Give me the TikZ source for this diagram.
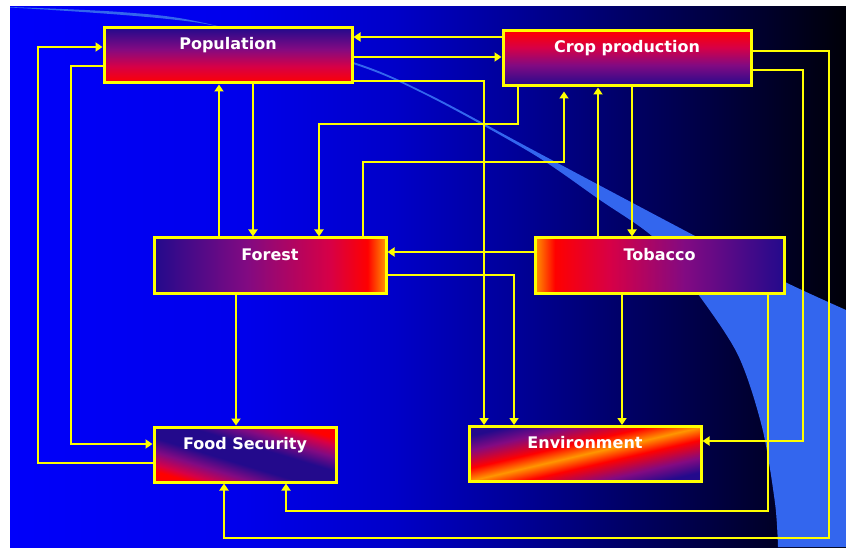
\documentclass[tikz,border=0pt]{standalone}
\usepackage{fontspec}
\usetikzlibrary{arrows.meta}
\newfontfamily\labelfont{DejaVu Sans}

% palette
\definecolor{bgA}{RGB}{0,0,250}
\definecolor{bgB}{RGB}{0,0,235}
\definecolor{bgC}{RGB}{0,0,200}
\definecolor{bgD}{RGB}{0,0,150}
\definecolor{bgE}{RGB}{0,0,95}
\definecolor{bgF}{RGB}{0,0,45}
\definecolor{bgG}{RGB}{0,0,8}
\definecolor{arcblue}{RGB}{51,102,238}
\definecolor{linkyellow}{RGB}{255,255,0}
\definecolor{bxnavy}{RGB}{35,10,140}
\definecolor{bxpurple}{RGB}{130,10,130}
\definecolor{bxcrimson}{RGB}{215,0,70}
\definecolor{bxred}{RGB}{255,0,0}
\definecolor{bxorange}{RGB}{255,150,0}

% slide background: bright blue fading to black
\pgfdeclarehorizontalshading{slidebg}{100bp}{color(0bp)=(bgA); color(25bp)=(bgA);
  color(39bp)=(bgB); color(48bp)=(bgC); color(55.5bp)=(bgD); color(62.7bp)=(bgE);
  color(69.9bp)=(bgF); color(75bp)=(bgG); color(100bp)=(bgG)}

% box fills
\pgfdeclareverticalshading{navytored}{100bp}{color(0bp)=(bxred); color(25bp)=(bxred);
  color(40bp)=(bxcrimson); color(56bp)=(bxpurple); color(75bp)=(bxnavy); color(100bp)=(bxnavy)}
\pgfdeclareverticalshading{redtonavy}{100bp}{color(0bp)=(bxnavy); color(25bp)=(bxnavy);
  color(44bp)=(bxpurple); color(60bp)=(bxcrimson); color(75bp)=(bxred); color(100bp)=(bxred)}
\pgfdeclarehorizontalshading{leftnavy}{100bp}{color(0bp)=(bxnavy); color(25bp)=(bxnavy);
  color(45bp)=(bxpurple); color(63bp)=(bxcrimson); color(71bp)=(bxred); color(75bp)=(bxorange);
  color(100bp)=(bxorange)}
\pgfdeclarehorizontalshading{rightnavy}{100bp}{color(0bp)=(bxorange); color(25bp)=(bxorange);
  color(29bp)=(bxred); color(40bp)=(bxcrimson); color(55bp)=(bxpurple); color(75bp)=(bxnavy);
  color(100bp)=(bxnavy)}
\pgfdeclareverticalshading{navyband}{100bp}{color(0bp)=(bxred); color(25bp)=(bxred);
  color(29bp)=(bxcrimson); color(36bp)=(bxpurple); color(44bp)=(bxnavy); color(56bp)=(bxnavy);
  color(64bp)=(bxpurple); color(71bp)=(bxcrimson); color(75bp)=(bxred); color(100bp)=(bxred)}
\pgfdeclareverticalshading{orangeband}{100bp}{color(0bp)=(bxnavy); color(25bp)=(bxnavy);
  color(33bp)=(bxpurple); color(43bp)=(bxred); color(50bp)=(bxorange); color(57bp)=(bxred);
  color(67bp)=(bxpurple); color(75bp)=(bxnavy); color(100bp)=(bxnavy)}

\tikzset{
  factor/.style={shade, draw=linkyellow, line width=3pt, inner sep=0pt,
    text height=22pt, text depth=33pt, text=white,
    font=\labelfont\bfseries\fontsize{16}{19}\selectfont},
  link/.style={draw=linkyellow, line width=2.8pt,
    -{Triangle[length=7pt,width=9pt]}},
}

\begin{document}
\begin{tikzpicture}[x=1pt,y=1pt]
\useasboundingbox (0,0) rectangle (846,547);
\fill[white] (0,0) rectangle (846,547);
\shade[shading=slidebg] (10,0) rectangle (846,540);

% light crescent sweeping to the lower right
\fill[arcblue] (10,540)
  plot[smooth] coordinates {(10,540) (120,535) (200,525) (353,485) (430,452)
    (533,397) (697,310) (785,265) (846,237)}
  -- (846,0) -- (778,0)
  -- plot[smooth] coordinates {(778,0) (775,44) (762,120) (737,194) (690,264)
    (653,310) (600,347) (533,393) (430,450) (353,483) (200,524) (10,539.5)}
  -- cycle;

% factors
\node[factor, shading=navytored, minimum width=248pt] (pop) at (228,491.5) {Population};
\node[factor, shading=redtonavy, minimum width=248pt] (crop) at (627,488.5) {Crop production};
\node[factor, shading=leftnavy, minimum width=232pt] (forest) at (270,281.5) {Forest};
\node[factor, shading=rightnavy, minimum width=249pt] (tob) at (659.5,281.5) {Tobacco};
\node[factor, shading=navyband, shading angle=-16.8, minimum width=182pt] (fs) at (245,92.5) {Food Security};
\node[factor, shading=orangeband, shading angle=13.1, minimum width=232pt] (env) at (585,93) {Environment};

% links on the left
\draw[link] ([yshift=-8.5pt]fs.west) -| (38,300) |- ([yshift=8.5pt]pop.west);
\draw[link] ([yshift=-10.5pt]pop.west) -| (71,300) |- ([yshift=10.5pt]fs.west);

% population and forest
\draw[link] ([xshift=-51pt]forest.north) -- ([xshift=-51pt]forest.north |- pop.south);
\draw[link] ([xshift=-17pt]forest.north |- pop.south) -- ([xshift=-17pt]forest.north);

% crop production and forest
\draw[link] ([xshift=-109pt]crop.south) |- (319,423) -- ([xshift=49pt]forest.north);
\draw[link, shorten >=4pt] ([xshift=93pt]forest.north) |- (564,385) -- ([xshift=-63pt]crop.south);

% crop production and tobacco
\draw[link] ([xshift=-61.5pt]tob.north) -- ([xshift=-61.5pt]tob.north |- crop.south);
\draw[link] ([xshift=-27.5pt]tob.north |- crop.south) -- ([xshift=-27.5pt]tob.north);

% population and crop production
\draw[link] ([yshift=21.5pt]crop.west) -- ([yshift=21.5pt]crop.west -| pop.east);
\draw[link] ([yshift=-1.5pt]pop.east) -- ([yshift=-1.5pt]pop.east -| crop.west);

% into the environment and food security
\draw[link] ([yshift=-25.5pt]pop.east) -| ([xshift=-101pt]env.north);
\draw[link] ([yshift=13.5pt]tob.west) -- ([yshift=13.5pt]tob.west -| forest.east);
\draw[link] ([yshift=-9.5pt]forest.east) -| ([xshift=-71pt]env.north);
\draw[link] ([xshift=-34pt]forest.south) -- ([xshift=-34pt]forest.south |- fs.north);
\draw[link] ([xshift=-37.5pt]tob.south) -- ([xshift=-37.5pt]tob.south |- env.north);
\draw[link] ([xshift=108.5pt]tob.south) |- (286,36) -- ([xshift=41pt]fs.south);
\draw[link] ([yshift=-11.5pt]crop.east) -| (803,300) |- ([yshift=13pt]env.east);
\draw[link] ([yshift=7.5pt]crop.east) -| (829,9) -| ([xshift=-21pt]fs.south);
\end{tikzpicture}
\end{document}
